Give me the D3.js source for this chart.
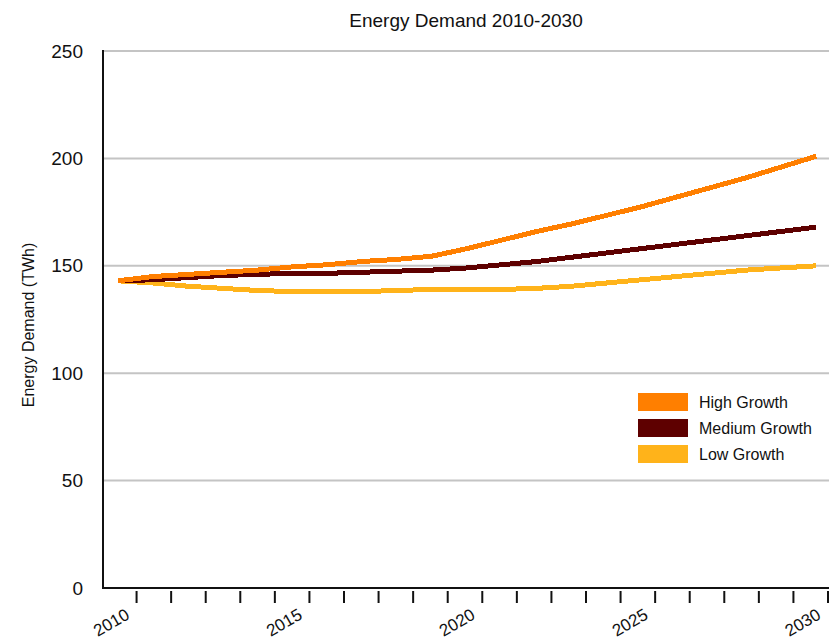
<!DOCTYPE html>
<html>
<head>
<meta charset="utf-8">
<script src="https://cdn.jsdelivr.net/npm/d3@7"></script>
<style>
  body { margin: 0; background: #fff; }
  text { font-family: "Liberation Sans", Arial, sans-serif; fill: #111; }
</style>
</head>
<body>
<svg width="829" height="639"></svg>
<script>
// data
const years = [2010, 2011, 2012, 2013, 2014, 2015, 2016, 2017, 2018, 2019, 2020,
               2021, 2022, 2023, 2024, 2025, 2026, 2027, 2028, 2029, 2030];
const highGrowth = [143, 145, 146, 147, 148, 149.5, 150.5, 152, 153, 154.5, 158,
                    162, 166, 169.5, 173.5, 177.5, 182, 186.5, 191, 196, 201];
const mediumGrowth = [143, 143.5, 144.5, 145.5, 146, 146.5, 146.5, 147, 147.5, 148, 149,
                      150.5, 152, 154, 156, 158, 160, 162, 164, 166, 168];
const lowGrowth = [143, 142, 140.5, 139.5, 138.5, 138, 138, 138, 138.5, 139, 139,
                   139, 139.5, 140.5, 142, 143.5, 145, 146.5, 148, 149, 150];
const seriesNames = ["High Growth", "Medium Growth", "Low Growth"];
const seriesColors = ["#ff7f00", "#5e0000", "#ffb31a"];
const yTicks = [0, 50, 100, 150, 200, 250];
const xLabelYears = [2010, 2015, 2020, 2025, 2030];

const svg = d3.select("svg");
const plotLeft = 103, plotRight = 829, plotTop = 51, plotBottom = 588;

const x = d3.scaleLinear().domain([2009, 2030]).range([plotLeft, plotRight]);
// the lines sit slightly inside each year band
const xLine = d3.scaleLinear().domain([2010, 2030]).range([x(2009.43), x(2029.63)]);
const y = d3.scaleLinear().domain([0, 250]).range([plotBottom, plotTop]);

// gridlines
svg.append("g")
    .selectAll("line")
    .data(yTicks.filter(d => d > 0))
    .join("line")
    .attr("x1", plotLeft).attr("x2", plotRight)
    .attr("y1", d => y(d)).attr("y2", d => y(d))
    .attr("stroke", "#c4c4c4")
    .attr("stroke-width", 2);

// y labels
svg.append("g")
    .selectAll("text")
    .data(yTicks)
    .join("text")
    .attr("x", plotLeft - 20)
    .attr("y", d => y(d))
    .attr("dy", "0.35em")
    .attr("text-anchor", "end")
    .style("font-size", "19px")
    .text(d => d);

// series lines
const series = [highGrowth, mediumGrowth, lowGrowth];
const line = d3.line()
    .x((d, i) => xLine(years[i]))
    .y(d => y(d));

// draw low first so high sits on top like in the picture
[2, 1, 0].forEach(k => {
  svg.append("path")
      .datum(series[k])
      .attr("d", line)
      .attr("fill", "none")
      .attr("stroke", seriesColors[k])
      .attr("stroke-width", 5)
      .attr("shape-rendering", "crispEdges");
});

// axes
svg.append("line")
    .attr("x1", plotLeft).attr("x2", plotLeft)
    .attr("y1", plotTop - 1).attr("y2", plotBottom + 1)
    .attr("stroke", "#111").attr("stroke-width", 2);
svg.append("line")
    .attr("x1", plotLeft).attr("x2", plotRight)
    .attr("y1", plotBottom).attr("y2", plotBottom)
    .attr("stroke", "#111").attr("stroke-width", 2);

// x ticks every year
svg.append("g")
    .selectAll("line")
    .data(years)
    .join("line")
    .attr("x1", d => x(d) - 1).attr("x2", d => x(d) - 1)
    .attr("y1", plotBottom + 3).attr("y2", plotBottom + 15)
    .attr("stroke", "#111").attr("stroke-width", 2);

svg.append("g")
    .selectAll("text")
    .data(xLabelYears)
    .join("text")
    .attr("transform", d => "translate(" + (x(d) - 7) + "," + (plotBottom + 30) + ") rotate(-30)")
    .attr("text-anchor", "end")
    .style("font-size", "17px")
    .text(d => d);

// title
svg.append("text")
    .attr("x", (plotLeft + plotRight) / 2)
    .attr("y", 27)
    .attr("text-anchor", "middle")
    .style("font-size", "19px")
    .text("Energy Demand 2010-2030");

// y axis title
svg.append("text")
    .attr("transform", "translate(34," + 325 + ") rotate(-90)")
    .attr("text-anchor", "middle")
    .style("font-size", "16px")
    .text("Energy Demand (TWh)");

// legend
const legend = svg.append("g")
    .selectAll("g")
    .data(seriesNames)
    .join("g")
    .attr("transform", (d, i) => "translate(638," + (393 + i * 26) + ")");
legend.append("rect")
    .attr("width", 50).attr("height", 18)
    .attr("fill", (d, i) => seriesColors[i]);
legend.append("text")
    .attr("x", 61).attr("y", 9)
    .attr("dy", "0.35em")
    .style("font-size", "16px")
    .text(d => d);
</script>
</body>
</html>
